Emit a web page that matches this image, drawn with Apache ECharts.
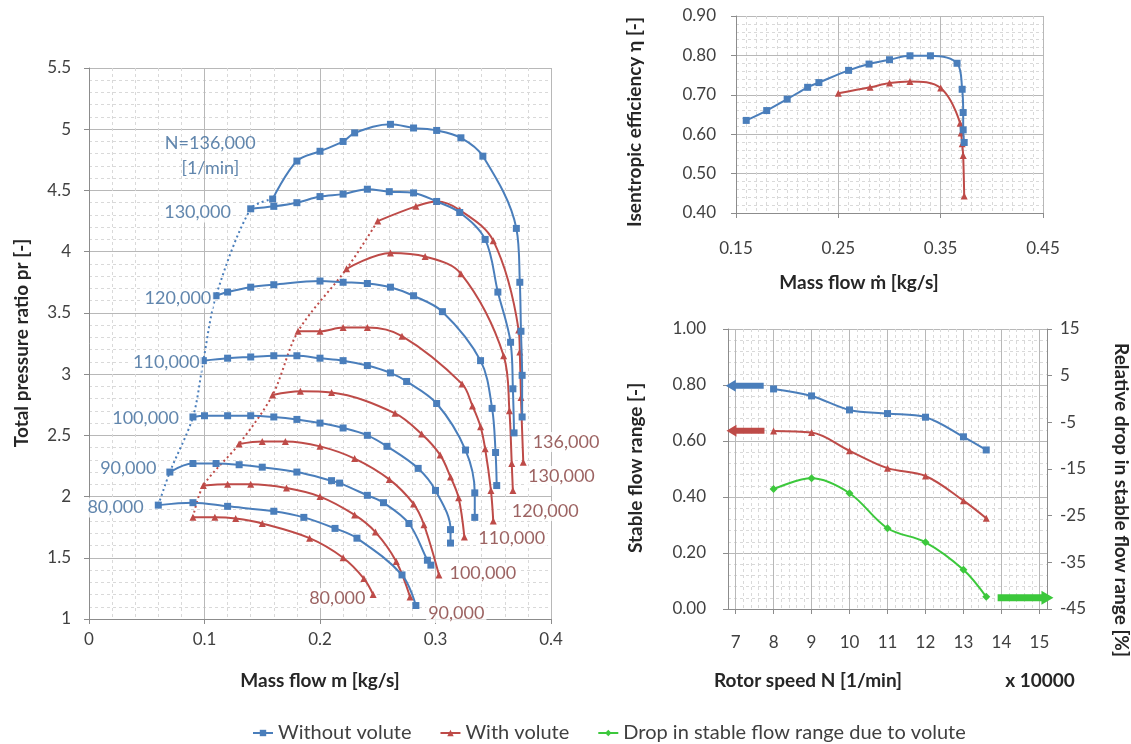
<!DOCTYPE html>
<html><head><meta charset="utf-8">
<script src="https://cdn.jsdelivr.net/npm/echarts@6/dist/echarts.min.js"></script>
<style>html,body{margin:0;padding:0;background:#fff}#c{width:1131px;height:744px}</style>
</head><body><div id="c"></div>
<script>
// ---------- DATA: compressor map (mass flow [kg/s], pressure ratio) ----------
const speedNames = ['80,000','90,000','100,000','110,000','120,000','130,000','136,000'];
const pr_nv_80  = [[0.060,1.93],[0.090,1.95],[0.120,1.92],[0.160,1.88],[0.186,1.83],[0.213,1.74],[0.232,1.66],[0.271,1.36],[0.283,1.11]];
const pr_nv_90  = [[0.070,2.20],[0.090,2.27],[0.110,2.27],[0.130,2.26],[0.150,2.24],[0.180,2.20],[0.210,2.13],[0.217,2.11],[0.241,2.01],[0.255,1.95],[0.277,1.78],[0.293,1.48],[0.296,1.44]];
const pr_nv_100 = [[0.090,2.65],[0.100,2.66],[0.120,2.66],[0.140,2.66],[0.160,2.65],[0.180,2.63],[0.200,2.60],[0.220,2.56],[0.241,2.50],[0.258,2.41],[0.285,2.23],[0.300,2.05],[0.313,1.73],[0.313,1.62]];
const pr_nv_110 = [[0.099,3.11],[0.120,3.13],[0.140,3.14],[0.160,3.15],[0.180,3.15],[0.200,3.13],[0.220,3.11],[0.241,3.07],[0.261,3.01],[0.275,2.94],[0.301,2.76],[0.326,2.38],[0.334,2.03],[0.334,1.83]];
const pr_nv_120 = [[0.110,3.64],[0.120,3.67],[0.140,3.71],[0.160,3.73],[0.200,3.76],[0.220,3.75],[0.241,3.74],[0.261,3.71],[0.281,3.64],[0.306,3.51],[0.339,3.11],[0.349,2.72],[0.352,2.36],[0.353,2.09]];
const pr_nv_130 = [[0.140,4.35],[0.160,4.37],[0.180,4.40],[0.200,4.45],[0.220,4.47],[0.241,4.51],[0.260,4.49],[0.281,4.48],[0.301,4.41],[0.321,4.32],[0.343,4.10],[0.354,3.67],[0.365,3.26],[0.367,2.88],[0.368,2.52]];
const pr_nv_136 = [[0.159,4.43],[0.180,4.74],[0.200,4.82],[0.220,4.90],[0.230,4.97],[0.261,5.04],[0.281,5.01],[0.301,4.99],[0.322,4.93],[0.341,4.78],[0.370,4.19],[0.373,3.75],[0.374,3.35],[0.375,2.99],[0.375,2.65]];

const pr_v_80  = [[0.090,1.83],[0.109,1.83],[0.127,1.82],[0.150,1.78],[0.191,1.66],[0.220,1.50],[0.238,1.33],[0.246,1.20]];
const pr_v_90  = [[0.099,2.09],[0.120,2.10],[0.140,2.10],[0.171,2.07],[0.200,2.00],[0.230,1.85],[0.248,1.71],[0.266,1.47],[0.278,1.18]];
const pr_v_100 = [[0.130,2.43],[0.150,2.45],[0.170,2.45],[0.200,2.41],[0.230,2.31],[0.260,2.14],[0.281,1.94],[0.290,1.77],[0.303,1.36]];
const pr_v_110 = [[0.159,2.83],[0.183,2.86],[0.210,2.85],[0.265,2.68],[0.288,2.51],[0.304,2.34],[0.313,2.16],[0.320,1.99],[0.325,1.67]];
const pr_v_120 = [[0.181,3.35],[0.200,3.35],[0.220,3.38],[0.241,3.38],[0.271,3.31],[0.323,2.92],[0.332,2.74],[0.339,2.57],[0.343,2.39],[0.348,2.05],[0.350,1.80]];
const pr_v_130 = [[0.223,3.86],[0.261,3.99],[0.291,3.96],[0.322,3.82],[0.359,3.15],[0.364,2.70],[0.366,2.27],[0.367,2.05]];
const pr_v_136 = [[0.250,4.25],[0.283,4.37],[0.301,4.41],[0.321,4.34],[0.350,4.09],[0.372,3.36],[0.373,3.18],[0.374,2.81],[0.376,2.28]];

// speed annotations: [text, mass flow, pressure ratio]
const labelsNoVolute = [['N=136,000',0.105,4.89],['[1/min]',0.105,4.68],['130,000',0.094,4.32],['120,000',0.077,3.62],['110,000',0.067,3.10],['100,000',0.049,2.64],['90,000',0.034,2.23],['80,000',0.023,1.91]];
const labelsVolute = [['136,000',0.413,2.445],['130,000',0.409,2.167],['120,000',0.395,1.882],['110,000',0.366,1.661],['100,000',0.341,1.376],['90,000',0.318,1.05],['80,000',0.215,1.171]];

// ---------- DATA: isentropic efficiency ----------
const effFlowNoVolute = [0.160,0.180,0.200,0.220,0.231,0.260,0.280,0.300,0.320,0.340,0.366,0.371,0.372,0.372,0.373];
const effNoVolute     = [0.635,0.660,0.689,0.719,0.731,0.762,0.778,0.789,0.799,0.799,0.780,0.714,0.655,0.611,0.579];
const effFlowVolute   = [0.250,0.281,0.300,0.320,0.350,0.369,0.370,0.371,0.372,0.373];
const effVolute       = [0.704,0.719,0.730,0.734,0.717,0.628,0.603,0.576,0.546,0.443];
const effTicks = [0.15,0.25,0.35,0.45];

// ---------- DATA: stable flow range ----------
const rotorSpeed = [8,9,10,11,12,13,13.6];
const sfrNoVolute = [0.786,0.761,0.711,0.698,0.685,0.615,0.568];
const sfrVolute   = [0.636,0.630,0.565,0.503,0.475,0.387,0.324];
const sfrDrop     = [-19.3,-17.0,-20.2,-27.7,-30.7,-36.6,-42.4];
const speedTicks = [7,8,9,10,11,12,13,14,15];
const dropTicks = [-45,-35,-25,-15,-5,5,15];
const arrowNoVolute = [[7.74,0.797],[6.74,0.797]];
const arrowVolute   = [[7.76,0.637],[6.76,0.637]];
const arrowDrop     = [[13.9,-42.6],[15.37,-42.6]];

// ---------- STYLE ----------
const FONT = 'Lato, "Open Sans", "DejaVu Sans", sans-serif';
const BLUE = '#4A7EBB', RED = '#BE4B48', GREEN = '#3CC83C';
const TICK = '#404040', TITLE = '#262626';
const MAJ = '#B8B8B8', MIN = '#D9D9D9', AX = '#8C8C8C';
const NV = 'Without volute', WV = 'With volute', DR = 'Drop in stable flow range due to volute';

function valAxis(o) {
  return Object.assign({
    type: 'value',
    axisLine: {show: true, onZero: false, lineStyle: {color: AX}},
    axisTick: {show: true, length: 5, lineStyle: {color: AX}},
    axisLabel: {color: TICK, fontSize: 17, fontFamily: FONT},
    splitLine: {show: true, lineStyle: {color: MAJ, width: 1}},
    minorTick: {show: false, splitNumber: 5},
    minorSplitLine: {show: true, lineStyle: {color: MIN, width: 1, type: [3, 3]}}
  }, o);
}
function hidden(o) {
  return Object.assign({
    type: 'value', position: 'bottom', axisLine: {show: false, onZero: false}, axisTick: {show: false}, axisLabel: {show: false},
    splitLine: {show: true, lineStyle: {color: MIN, width: 1, type: [3, 3]}}
  }, o);
}

const series = [];
const nvCurves = [pr_nv_80, pr_nv_90, pr_nv_100, pr_nv_110, pr_nv_120, pr_nv_130, pr_nv_136];
const vCurves  = [pr_v_80, pr_v_90, pr_v_100, pr_v_110, pr_v_120, pr_v_130, pr_v_136];
nvCurves.forEach(c => series.push({
  name: NV, type: 'line', xAxisIndex: 0, yAxisIndex: 0, data: c, smooth: 0.35,
  symbol: 'rect', symbolSize: 7, showSymbol: true, lineStyle: {color: BLUE, width: 2}, itemStyle: {color: BLUE}, z: 4
}));
vCurves.forEach(c => series.push({
  name: WV, type: 'line', xAxisIndex: 0, yAxisIndex: 0, data: c, smooth: 0.35,
  symbol: 'triangle', symbolSize: 7, lineStyle: {color: RED, width: 2}, itemStyle: {color: RED}, z: 3
}));
series.push({type: 'line', xAxisIndex: 0, yAxisIndex: 0, data: nvCurves.map(c => c[0]), smooth: 0.3,
  showSymbol: false, lineStyle: {color: BLUE, width: 2, type: [2, 3]}, z: 2, silent: true});
series.push({type: 'line', xAxisIndex: 0, yAxisIndex: 0, data: vCurves.map(c => c[0]), smooth: 0.3,
  showSymbol: false, lineStyle: {color: RED, width: 2, type: [2, 3]}, z: 2, silent: true});
function labelSeries(arr, color) {
  return {type: 'scatter', xAxisIndex: 0, yAxisIndex: 0, clip: false, silent: true, z: 10,
    symbol: 'rect', symbolSize: 1, itemStyle: {color: 'rgba(0,0,0,0)'},
    data: arr.map(([t, x, y]) => ({name: t, value: [x, y],
      label: {backgroundColor: (t.startsWith('N=') || t.startsWith('[')) ? 'transparent' : '#fff'}})),
    label: {show: true, position: 'inside', formatter: '{b}', color: color, fontSize: 18, fontFamily: FONT, padding: [1, 2]}};
}
series.push(labelSeries(labelsNoVolute, '#3A6899'));
series.push(labelSeries(labelsVolute, '#833C3B'));

// efficiency
series.push({name: NV, type: 'line', xAxisIndex: 2, yAxisIndex: 1, smooth: 0.35,
  data: effFlowNoVolute.map((x, i) => [x, effNoVolute[i]]),
  symbol: 'rect', symbolSize: 7, lineStyle: {color: BLUE, width: 2}, itemStyle: {color: BLUE}, z: 4});
series.push({name: WV, type: 'line', xAxisIndex: 2, yAxisIndex: 1, smooth: 0.35,
  data: effFlowVolute.map((x, i) => [x, effVolute[i]]),
  symbol: 'triangle', symbolSize: 7, lineStyle: {color: RED, width: 2}, itemStyle: {color: RED}, z: 3});

// stable flow range
series.push({name: NV, type: 'line', xAxisIndex: 4, yAxisIndex: 2, smooth: 0.35,
  data: rotorSpeed.map((x, i) => [x, sfrNoVolute[i]]),
  symbol: 'rect', symbolSize: 7, lineStyle: {color: BLUE, width: 2}, itemStyle: {color: BLUE}});
series.push({name: WV, type: 'line', xAxisIndex: 4, yAxisIndex: 2, smooth: 0.35,
  data: rotorSpeed.map((x, i) => [x, sfrVolute[i]]),
  symbol: 'triangle', symbolSize: 7, lineStyle: {color: RED, width: 2}, itemStyle: {color: RED}});
series.push({name: DR, type: 'line', xAxisIndex: 4, yAxisIndex: 3, smooth: 0.35,
  data: rotorSpeed.map((x, i) => [x, sfrDrop[i]]),
  symbol: 'diamond', symbolSize: 8, lineStyle: {color: GREEN, width: 2}, itemStyle: {color: GREEN}});

const option = {
  animation: false,
  backgroundColor: '#fff',
  textStyle: {fontFamily: FONT},
  grid: [
    {left: 89, top: 68, width: 462, height: 551, outerBoundsMode: 'none', containLabel: false},
    {left: 736, top: 16, width: 307, height: 197, outerBoundsMode: 'none', containLabel: false},
    {left: 728, top: 329, width: 319, height: 280, outerBoundsMode: 'none', containLabel: false}
  ],
  xAxis: [
    valAxis({gridIndex: 0, position: 'bottom', min: 0, max: 0.4, interval: 0.1,
      axisLabel: {color: TICK, fontSize: 17, fontFamily: FONT, margin: 12, formatter: v => String(+v.toFixed(2))}}),
    hidden({gridIndex: 1, min: 0.15, max: 0.45, interval: 0.01}),
    valAxis({gridIndex: 1, position: 'bottom', min: 0.15, max: 0.45, interval: 0.05,
      axisTick: {show: true, length: 5, lineStyle: {color: AX}, customValues: effTicks},
      axisLabel: {color: TICK, fontSize: 17, fontFamily: FONT, margin: 27, customValues: effTicks, formatter: v => v.toFixed(2)},
      minorSplitLine: {show: false}}),
    hidden({gridIndex: 2, min: 6.8, max: 15.2, interval: 0.2}),
    valAxis({gridIndex: 2, position: 'bottom', min: 6.8, max: 15.2, interval: 0.2,
      axisTick: {show: true, length: 5, lineStyle: {color: AX}, customValues: speedTicks},
      axisLabel: {color: TICK, fontSize: 17, fontFamily: FONT, margin: 25, customValues: speedTicks, formatter: v => String(Math.round(v))},
      minorSplitLine: {show: false}})
  ],
  yAxis: [
    valAxis({gridIndex: 0, position: 'left', min: 1, max: 5.5, interval: 0.5,
      axisLabel: {color: TICK, fontSize: 17, fontFamily: FONT, margin: 18, formatter: v => String(+v.toFixed(2))}}),
    valAxis({gridIndex: 1, position: 'left', min: 0.4, max: 0.9, interval: 0.1,
      axisLabel: {color: TICK, fontSize: 17, fontFamily: FONT, margin: 20, formatter: v => v.toFixed(2)}}),
    valAxis({gridIndex: 2, position: 'left', min: 0, max: 1, interval: 0.2,
      axisLabel: {color: TICK, fontSize: 17, fontFamily: FONT, margin: 22, formatter: v => v.toFixed(2)}}),
    valAxis({gridIndex: 2, min: -45, max: 15, interval: 5, position: 'right',
      axisTick: {show: true, length: 5, lineStyle: {color: AX}, customValues: dropTicks},
      axisLabel: {color: TICK, fontSize: 17, fontFamily: FONT, margin: 13, customValues: dropTicks, formatter: v => String(Math.round(v))},
      splitLine: {show: false}, minorSplitLine: {show: false}})
  ],
  legend: {
    data: [NV, WV, DR], left: 247, top: 718, itemWidth: 20, itemHeight: 8, itemGap: 28,
    textStyle: {color: TICK, fontSize: 20, fontFamily: FONT}
  },
  series: series
};

const chart = echarts.init(document.getElementById('c'), null, {renderer: 'canvas'});
chart.setOption(option);

function title(text, x, y, rot) {
  return {type: 'text', x: x, y: y, rotation: rot || 0, silent: true, z: 50,
    style: {text: text, font: 'bold 19px ' + FONT, fill: TITLE, align: 'center', verticalAlign: 'middle',
      textAlign: 'center', textVerticalAlign: 'middle'}};
}
function arrow(pts, color, t, hh, hl, xi, yi) {
  const a = chart.convertToPixel({xAxisIndex: xi, yAxisIndex: yi}, pts[1]); // tip
  const b = chart.convertToPixel({xAxisIndex: xi, yAxisIndex: yi}, pts[0]); // tail
  const d = b[0] > a[0] ? 1 : -1, y = a[1], h = a[0] + d * hl;
  return {type: 'polygon', silent: true, z: 40,
    shape: {points: [[a[0], y], [h, y - hh], [h, y - t], [b[0], y - t], [b[0], y + t], [h, y + t], [h, y + hh]]},
    style: {fill: color}};
}
chart.setOption({graphic: [
  title('Total pressure ratio pr [-]', 22, 343, Math.PI / 2),
  title('Mass flow m [kg/s]', 320, 681),
  title('Isentropic efficiency η [-]', 635, 122, Math.PI / 2),
  title('Mass flow ṁ [kg/s]', 859, 283),
  title('Stable flow range [-]', 636, 468, Math.PI / 2),
  title('Rotor speed N [1/min]', 808, 681),
  title('x 10000', 1040, 681),
  title('Relative drop in stable flow range [%]', 1121, 500, -Math.PI / 2),
  arrow(arrowNoVolute, BLUE, 3, 6, 10, 4, 2),
  arrow(arrowVolute, RED, 3, 6, 10, 4, 2),
  arrow(arrowDrop, GREEN, 3.5, 7, 12, 4, 3)
]});
</script></body></html>
